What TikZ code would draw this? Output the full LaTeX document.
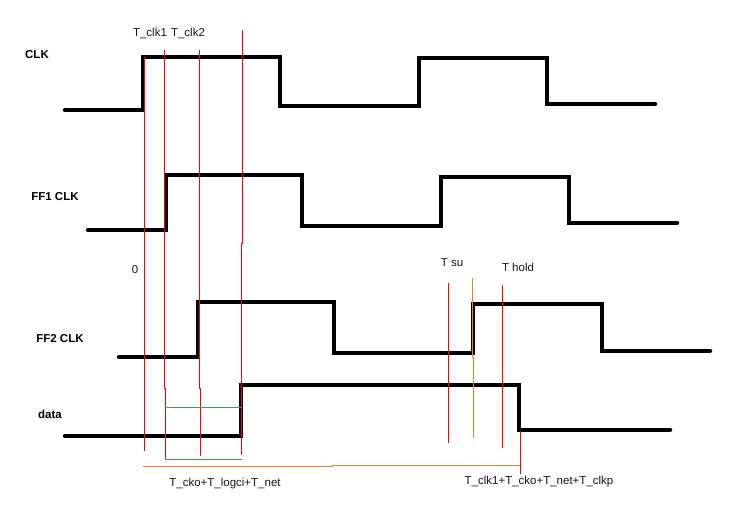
\documentclass[tikz,border=0pt]{standalone}
\usepackage{fontspec}
\setmainfont{Liberation Sans}
\definecolor{oranye}{RGB}{240,130,40}
\definecolor{hijau}{RGB}{60,165,70}
\definecolor{teks}{RGB}{20,20,30}
\begin{document}
\begin{tikzpicture}[x=1pt, y=-1pt, font=\fontsize{11.5}{13}\selectfont, text=teks,
  sinyal/.style={line width=4.5pt, line join=miter, line cap=round},
  merah/.style={red, line width=0.9pt},
  judul/.style={font=\fontsize{11.5}{13}\selectfont\bfseries, text=black}]

\useasboundingbox (0,0) rectangle (749,524);

% nama sinyal
\node[judul] (clk) at (37,55) {CLK};
\node[judul] (ff1) at (55,197) {FF1 CLK};
\node[judul] (ff2) at (60,339) {FF2 CLK};
\node[judul] (dat) at (50,414) {data};

% bentuk gelombang
\draw[sinyal] (65,110) -- (143,110) -- (143,57) -- (280,57) -- (280,106)
  -- (419,106) -- (419,58) -- (547,58) -- (547,104) -- (655,104);
\draw[sinyal] (88,230) -- (166,230) -- (166,175) -- (302,175) -- (302,226)
  -- (441,226) -- (441,177) -- (569,177) -- (569,223) -- (677,223);
\draw[sinyal] (119,357) -- (198,357) -- (198,302) -- (334,302) -- (334,353)
  -- (473,353) -- (473,304) -- (602,304) -- (602,351) -- (710,351);
\draw[sinyal] (65,436) -- (241,436) -- (241,385) -- (519,385) -- (519,430)
  -- (670,430);

% garis waktu merah
\draw[merah] (144,57) -- (144,451);
\draw[merah] (164,50) -- (164,388) -- (165,388) -- (165,459);
\draw[merah] (199,50) -- (199,388) -- (200,388) -- (200,456);
\draw[merah] (242,30) -- (242,243) -- (241,243) -- (241,455);
\draw[merah] (448,283) -- (448,443);
\draw[merah] (502,285) -- (502,448);
\draw[merah] (520,431) -- (520,474);
\draw[oranye, line width=0.9pt] (472,278) -- (472,357) -- (473,357) -- (473,438);

% kotak hijau
\foreach \y in {407,459} {
    \draw[hijau, line width=0.8pt] (165,\y) -- (242,\y);
}

% garis oranye bawah
\draw[oranye, line width=0.9pt] (143,466) -- (332,466) -- (332,465) -- (520,465);

% label waktu
\node (tclk1) at (150,33) {T\_clk1};
\node (tclk2) at (188,33) {T\_clk2};
\node (nol) at (135,270) {0};
\node (tsu) at (452,263) {T su};
\node (thold) at (518,267) {T hold};
\node (tkiri) at (225,484) {T\_cko+T\_logci+T\_net};
\node (tkanan) at (539,482) {T\_clk1+T\_cko+T\_net+T\_clkp};

\end{tikzpicture}
\end{document}
